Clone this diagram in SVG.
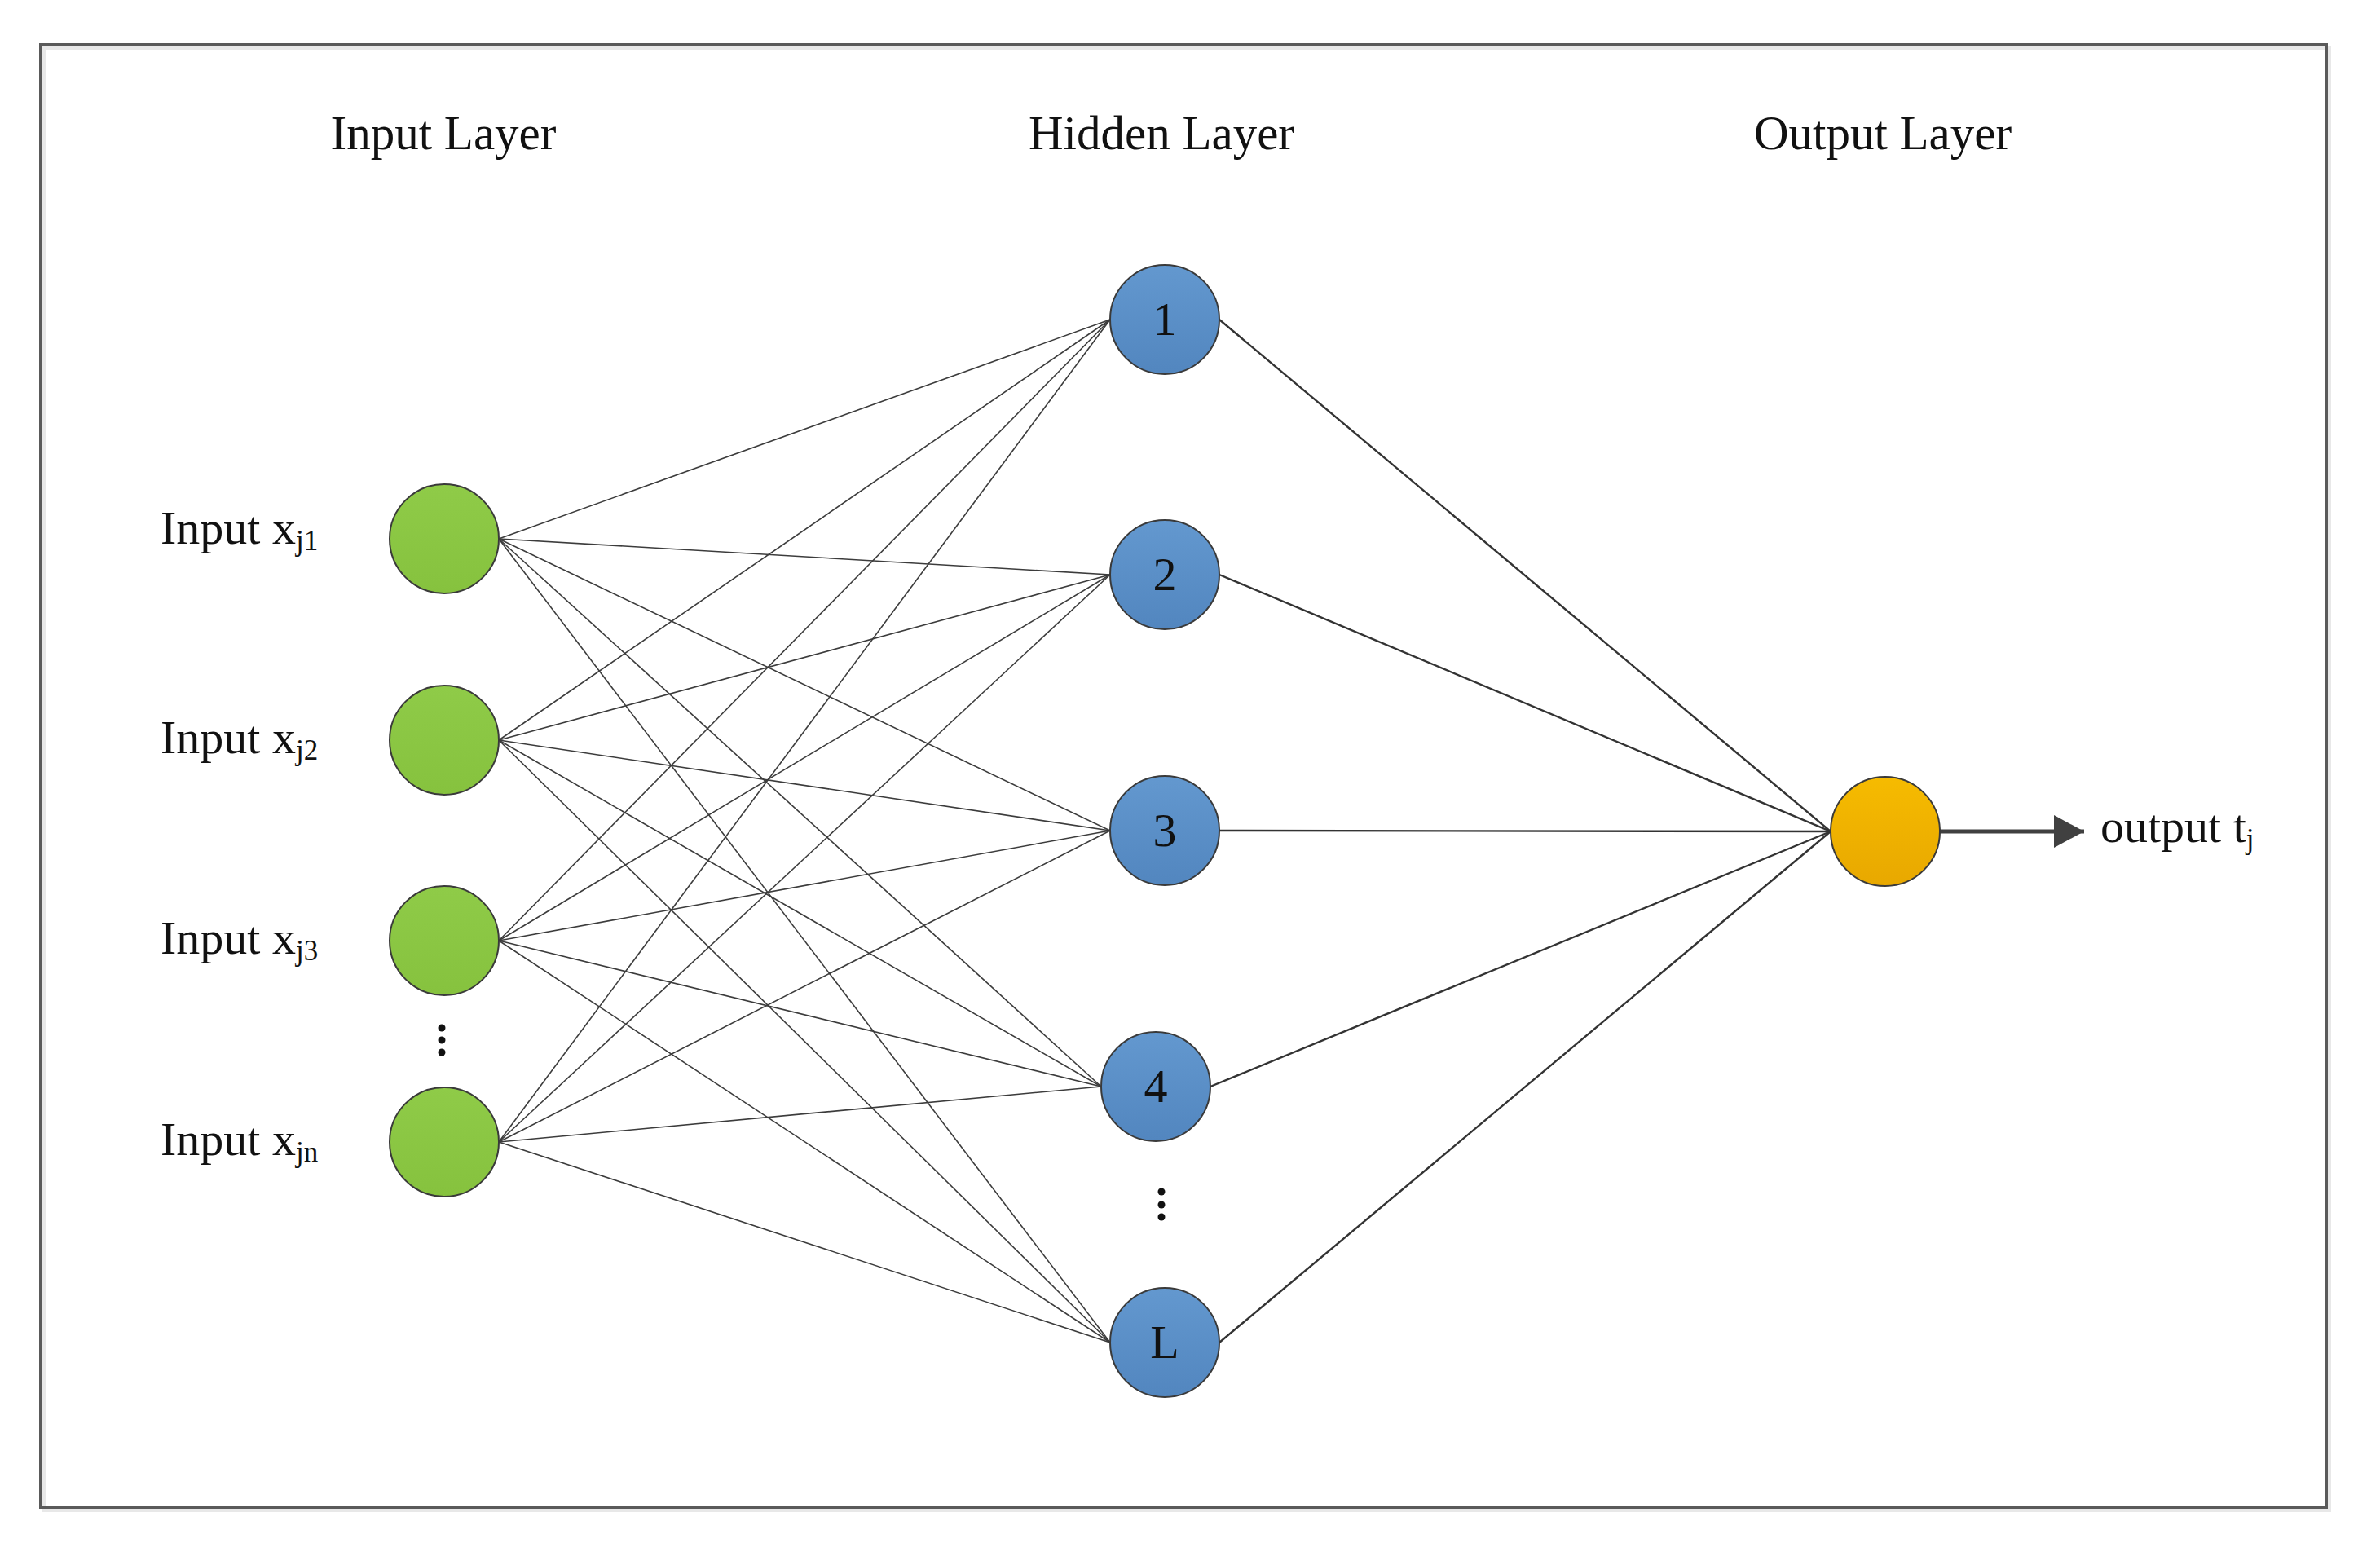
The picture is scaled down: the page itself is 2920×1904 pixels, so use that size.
<svg xmlns="http://www.w3.org/2000/svg" width="2920" height="1904" viewBox="0 0 2920 1904">
<style>
  text { font-family: "Liberation Serif", "Times New Roman", serif; fill: #111; }
  .title { font-size: 59px; text-anchor: middle; }
  .lbl { font-size: 58px; }
  .sub { font-size: 35px; }
  .num { font-size: 58px; text-anchor: middle; }
  .node { stroke: #3a3a3a; stroke-width: 2; }
  .in { fill: url(#gGreen); }
  .hid { fill: url(#gBlue); }
  .out { fill: url(#gOrange); }
  .edge { stroke: #3c3c3c; stroke-width: 1.6; fill: none; }
  .edge2 { stroke: #333; stroke-width: 2.4; fill: none; }
</style>
<defs>
  <linearGradient id="gGreen" x1="0" y1="0" x2="0" y2="1">
    <stop offset="0" stop-color="#8fcb48"/>
    <stop offset="1" stop-color="#86c23e"/>
  </linearGradient>
  <linearGradient id="gBlue" x1="0" y1="0" x2="0" y2="1">
    <stop offset="0" stop-color="#6398cf"/>
    <stop offset="1" stop-color="#5286bf"/>
  </linearGradient>
  <linearGradient id="gOrange" x1="0" y1="0" x2="0" y2="1">
    <stop offset="0" stop-color="#f6bb00"/>
    <stop offset="1" stop-color="#e8a800"/>
  </linearGradient>
  <marker id="arrow" markerWidth="8" markerHeight="8" refX="7.4" refY="4" orient="auto" markerUnits="strokeWidth">
    <path d="M0,0 L7.4,4 L0,8 Z" fill="#404040"/>
  </marker>
</defs>
<rect width="2920" height="1904" fill="#ffffff"/>
<rect x="54" y="59" width="2804" height="1794" fill="none" stroke="#e8e8e8" stroke-width="4"/>
<rect x="50" y="55" width="2804" height="1794" fill="none" stroke="#5a5a5a" stroke-width="4"/>

<g id="titles">
  <text class="title" x="544" y="183">Input Layer</text>
  <text class="title" x="1425" y="183">Hidden Layer</text>
  <text class="title" x="2310" y="183">Output Layer</text>
</g>

<g id="connectors">
  <line class="edge" x1="612" y1="661" x2="1362" y2="392"/>
  <line class="edge" x1="612" y1="661" x2="1362" y2="705"/>
  <line class="edge" x1="612" y1="661" x2="1362" y2="1019"/>
  <line class="edge" x1="612" y1="661" x2="1351" y2="1333"/>
  <line class="edge" x1="612" y1="661" x2="1362" y2="1647"/>
  <line class="edge" x1="612" y1="908" x2="1362" y2="392"/>
  <line class="edge" x1="612" y1="908" x2="1362" y2="705"/>
  <line class="edge" x1="612" y1="908" x2="1362" y2="1019"/>
  <line class="edge" x1="612" y1="908" x2="1351" y2="1333"/>
  <line class="edge" x1="612" y1="908" x2="1362" y2="1647"/>
  <line class="edge" x1="612" y1="1154" x2="1362" y2="392"/>
  <line class="edge" x1="612" y1="1154" x2="1362" y2="705"/>
  <line class="edge" x1="612" y1="1154" x2="1362" y2="1019"/>
  <line class="edge" x1="612" y1="1154" x2="1351" y2="1333"/>
  <line class="edge" x1="612" y1="1154" x2="1362" y2="1647"/>
  <line class="edge" x1="612" y1="1401" x2="1362" y2="392"/>
  <line class="edge" x1="612" y1="1401" x2="1362" y2="705"/>
  <line class="edge" x1="612" y1="1401" x2="1362" y2="1019"/>
  <line class="edge" x1="612" y1="1401" x2="1351" y2="1333"/>
  <line class="edge" x1="612" y1="1401" x2="1362" y2="1647"/>
  <line class="edge2" x1="1496" y1="392" x2="2246" y2="1020"/>
  <line class="edge2" x1="1496" y1="705" x2="2246" y2="1020"/>
  <line class="edge2" x1="1496" y1="1019" x2="2246" y2="1020"/>
  <line class="edge2" x1="1485" y1="1333" x2="2246" y2="1020"/>
  <line class="edge2" x1="1496" y1="1647" x2="2246" y2="1020"/>
  <line x1="2380" y1="1020" x2="2557" y2="1020" stroke="#404040" stroke-width="5" marker-end="url(#arrow)"/>
</g>

<g id="input1">
  <circle class="node in" cx="545" cy="661" r="67"/>
  <text class="lbl" x="197" y="667">Input x<tspan class="sub" dy="8">j1</tspan></text>
</g>
<g id="input2">
  <circle class="node in" cx="545" cy="908" r="67"/>
  <text class="lbl" x="197" y="924">Input x<tspan class="sub" dy="8">j2</tspan></text>
</g>
<g id="input3">
  <circle class="node in" cx="545" cy="1154" r="67"/>
  <text class="lbl" x="197" y="1170">Input x<tspan class="sub" dy="8">j3</tspan></text>
</g>
<g id="input-dots">
  <circle cx="542" cy="1261" r="4.5" fill="#111"/>
  <circle cx="542" cy="1276" r="4.5" fill="#111"/>
  <circle cx="542" cy="1291" r="4.5" fill="#111"/>
</g>
<g id="inputn">
  <circle class="node in" cx="545" cy="1401" r="67"/>
  <text class="lbl" x="197" y="1417">Input x<tspan class="sub" dy="8">jn</tspan></text>
</g>

<g id="hidden1">
  <circle class="node hid" cx="1429" cy="392" r="67"/>
  <text class="num" x="1429" y="411">1</text>
</g>
<g id="hidden2">
  <circle class="node hid" cx="1429" cy="705" r="67"/>
  <text class="num" x="1429" y="724">2</text>
</g>
<g id="hidden3">
  <circle class="node hid" cx="1429" cy="1019" r="67"/>
  <text class="num" x="1429" y="1038">3</text>
</g>
<g id="hidden4">
  <circle class="node hid" cx="1418" cy="1333" r="67"/>
  <text class="num" x="1418" y="1352">4</text>
</g>
<g id="hidden-dots">
  <circle cx="1425" cy="1462" r="4.5" fill="#111"/>
  <circle cx="1425" cy="1478" r="4.5" fill="#111"/>
  <circle cx="1425" cy="1493" r="4.5" fill="#111"/>
</g>
<g id="hiddenL">
  <circle class="node hid" cx="1429" cy="1647" r="67"/>
  <text class="num" x="1429" y="1666">L</text>
</g>

<g id="output">
  <circle class="node out" cx="2313" cy="1020" r="67"/>
  <text class="lbl" x="2577" y="1033">output t<tspan class="sub" dy="8">j</tspan></text>
</g>
</svg>
